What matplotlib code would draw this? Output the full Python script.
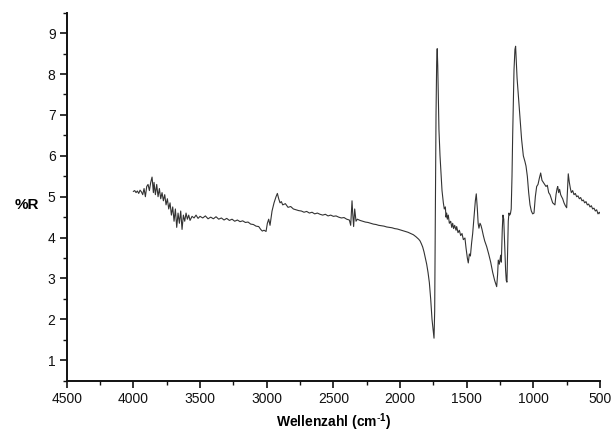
import matplotlib
matplotlib.use("Agg")
import matplotlib.pyplot as plt
from matplotlib.ticker import MultipleLocator

wavenumber = [
    4000, 3990, 3980, 3970, 3960, 3950, 3940, 3930, 3920, 3910, 3900, 3890, 3880, 3870, 3860,
    3850, 3845, 3835, 3825, 3815, 3805, 3795, 3785, 3775, 3765, 3755, 3745, 3735, 3725, 3715,
    3705, 3695, 3685, 3675, 3665, 3655, 3645, 3635, 3625, 3615, 3605, 3595, 3585, 3575, 3560,
    3545, 3530, 3515, 3500, 3480, 3460, 3440, 3420, 3400, 3380, 3360, 3340, 3320, 3300, 3280,
    3260, 3240, 3220, 3200, 3180, 3160, 3140, 3120, 3100, 3080, 3060, 3045, 3033, 3020, 3005,
    2995, 2985, 2975, 2960, 2945, 2930, 2920, 2910, 2900, 2890, 2880, 2860, 2840, 2820, 2800,
    2780, 2760, 2740, 2720, 2700, 2680, 2660, 2640, 2620, 2600, 2580, 2560, 2540, 2520, 2500,
    2480, 2460, 2440, 2420, 2400, 2380, 2370, 2360, 2355, 2348, 2340, 2330, 2320, 2300, 2280,
    2260, 2240, 2220, 2200, 2180, 2160, 2140, 2120, 2100, 2080, 2060, 2040, 2020, 2000, 1980,
    1960, 1940, 1920, 1900, 1880, 1860, 1850, 1840, 1830, 1820, 1810, 1800, 1790, 1780, 1770,
    1760, 1750, 1745, 1740, 1735, 1730, 1725, 1721, 1717, 1712, 1708, 1700, 1693, 1685, 1675,
    1668, 1660, 1655, 1650, 1645, 1638, 1630, 1620, 1612, 1605, 1598, 1590, 1580, 1575, 1565,
    1555, 1545, 1535, 1525, 1513, 1505, 1495, 1488, 1480, 1472, 1463, 1455, 1445, 1435, 1428,
    1420, 1414, 1408, 1400, 1393, 1385, 1375, 1365, 1350, 1335, 1320, 1305, 1290, 1280, 1275,
    1268, 1263, 1255, 1245, 1240, 1233, 1228, 1222, 1215, 1208, 1203, 1198, 1193, 1188, 1183,
    1178, 1172, 1166, 1160, 1155, 1150, 1145, 1138, 1133, 1128, 1122, 1113, 1100, 1088, 1075,
    1063, 1055, 1045, 1035, 1025, 1015, 1005, 995, 985, 975, 965, 955, 945, 935, 925,
    915, 905, 895, 885, 875, 865, 855, 845, 838, 830, 822, 817, 810, 803, 795,
    788, 780, 770, 760, 750, 743, 738, 730, 722, 715, 705, 695, 685, 675, 665,
    655, 645, 635, 625, 615, 605, 595, 585, 575, 565, 555, 545, 535, 525, 515,
    505, 498,
]

reflectance = [
    5.13, 5.15, 5.10, 5.14, 5.08, 5.16, 5.12, 5.05, 5.20, 5.00, 5.25, 5.30, 5.15, 5.35, 5.48,
    5.10, 5.35, 5.05, 5.30, 5.00, 5.20, 4.95, 5.10, 4.90, 5.05, 4.80, 4.95, 4.70, 4.85, 4.55,
    4.75, 4.40, 4.70, 4.25, 4.60, 4.35, 4.65, 4.20, 4.55, 4.40, 4.60, 4.45, 4.55, 4.42, 4.52,
    4.48, 4.55, 4.47, 4.52, 4.48, 4.53, 4.46, 4.50, 4.46, 4.51, 4.45, 4.48, 4.43, 4.47, 4.42,
    4.45, 4.40, 4.43, 4.39, 4.41, 4.37, 4.38, 4.33, 4.32, 4.28, 4.27, 4.20, 4.16, 4.18, 4.15,
    4.35, 4.45, 4.30, 4.65, 4.85, 5.00, 5.08, 4.95, 4.85, 4.88, 4.80, 4.83, 4.74, 4.76, 4.70,
    4.68, 4.66, 4.65, 4.62, 4.64, 4.60, 4.62, 4.58, 4.60, 4.57, 4.55, 4.57, 4.53, 4.55, 4.52,
    4.53, 4.50, 4.48, 4.49, 4.45, 4.43, 4.30, 4.90, 4.60, 4.27, 4.70, 4.40, 4.45, 4.42, 4.40,
    4.38, 4.37, 4.35, 4.33, 4.32, 4.30, 4.29, 4.28, 4.26, 4.25, 4.24, 4.22, 4.21, 4.19, 4.17,
    4.15, 4.13, 4.10, 4.07, 4.02, 3.96, 3.92, 3.85, 3.77, 3.65, 3.50, 3.35, 3.15, 2.90, 2.50,
    2.00, 1.70, 1.54, 2.20, 4.50, 7.00, 8.30, 8.62, 8.20, 7.30, 6.64, 6.00, 5.58, 5.15, 4.85,
    4.70, 4.75, 4.50, 4.60, 4.45, 4.55, 4.35, 4.40, 4.25, 4.35, 4.22, 4.30, 4.18, 4.27, 4.12,
    4.18, 4.05, 4.10, 3.95, 3.99, 3.75, 3.50, 3.38, 3.60, 3.55, 3.87, 4.10, 4.50, 4.90, 5.07,
    4.70, 4.35, 4.23, 4.35, 4.30, 4.20, 4.05, 3.92, 3.78, 3.60, 3.40, 3.15, 2.95, 2.85, 2.80,
    3.10, 3.45, 3.35, 3.57, 3.40, 4.20, 4.55, 4.45, 3.80, 3.20, 2.95, 2.91, 3.60, 4.40, 4.60,
    4.55, 4.58, 4.70, 5.50, 6.50, 7.30, 8.10, 8.60, 8.68, 8.30, 7.90, 7.50, 6.90, 6.40, 6.00,
    5.86, 5.75, 5.50, 5.10, 4.80, 4.65, 4.58, 4.60, 5.00, 5.25, 5.30, 5.45, 5.58, 5.40, 5.35,
    5.30, 5.25, 5.28, 5.10, 5.05, 4.95, 4.85, 4.82, 4.80, 5.05, 5.20, 5.25, 5.10, 5.18, 5.05,
    5.00, 4.95, 4.85, 4.78, 4.73, 5.20, 5.56, 5.35, 5.20, 5.10, 5.15, 5.05, 5.08, 5.00, 5.02,
    4.95, 4.98, 4.90, 4.92, 4.85, 4.88, 4.80, 4.82, 4.75, 4.78, 4.70, 4.72, 4.65, 4.68, 4.58,
    4.62, 4.58,
]

x_ticks = [4500, 4000, 3500, 3000, 2500, 2000, 1500, 1000, 500]
y_ticks = [1, 2, 3, 4, 5, 6, 7, 8, 9]

plt.rcParams['font.family'] = ['Liberation Sans', 'DejaVu Sans']

fig = plt.figure(figsize=(6.15, 4.38), dpi=100)
ax = fig.add_axes([0.1085, 0.1308, 0.8671, 0.8402])

ax.plot(wavenumber, reflectance, color='#333333', linewidth=0.8)

ax.set_xlim(4500, 500)
ax.set_ylim(0.5, 9.5)
ax.set_xticks(x_ticks)
ax.set_yticks(y_ticks)
ax.xaxis.set_minor_locator(MultipleLocator(250))
ax.yaxis.set_minor_locator(MultipleLocator(0.5))

for side in ['top', 'right']:
    ax.spines[side].set_visible(False)
for side in ['left', 'bottom']:
    ax.spines[side].set_linewidth(1.4)
    ax.spines[side].set_color('#111111')

ax.tick_params(axis='both', which='major', direction='out', length=5, width=1.2,
               labelsize=10, colors='#111111', pad=3)
ax.tick_params(axis='both', which='minor', direction='out', length=3, width=1.0, colors='#111111')

ax.set_xlabel('Wellenzahl (cm$^{\\mathregular{\\text{-}1}}$)', fontsize=10, fontweight='bold', labelpad=4)
ax.set_ylabel('%R', fontsize=11, fontweight='bold', rotation=0, va='center', ha='center')
ax.yaxis.set_label_coords(-0.075, 0.478)

fig.savefig('out.png', dpi=100)
